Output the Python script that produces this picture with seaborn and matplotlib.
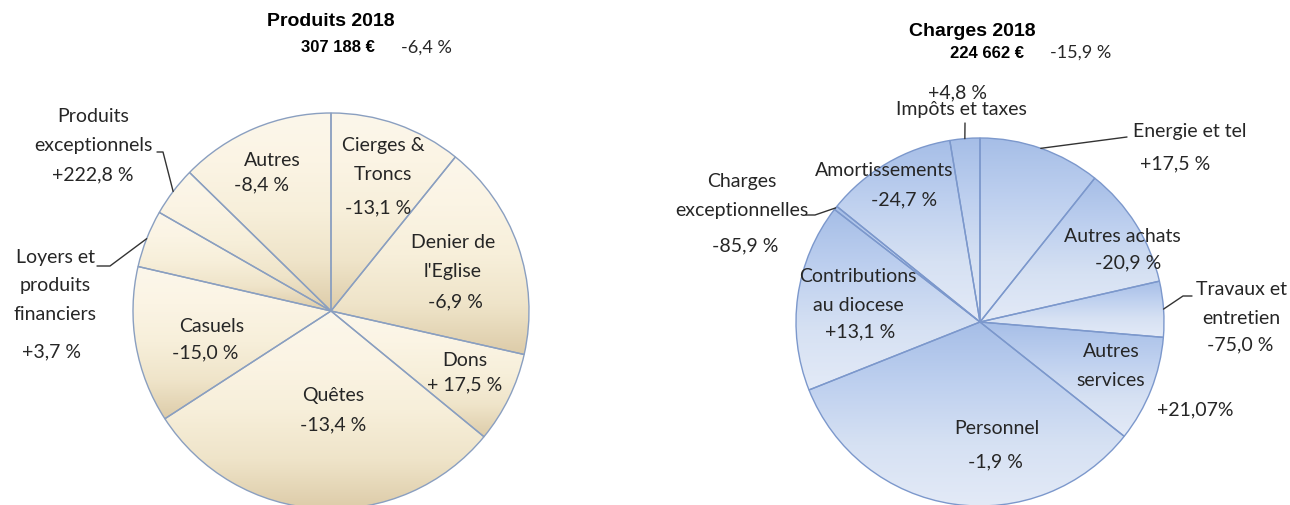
import numpy as np
import matplotlib.pyplot as plt
import seaborn as sns

# data (euros)
prod_names = ['Cierges &\nTroncs', "Denier de\nl'Eglise", 'Dons', 'Quêtes', 'Casuels',
              'Loyers et\nproduits\nfinanciers', 'Produits\nexceptionnels', 'Autres']
prod_values = [33200, 54400, 22800, 91800, 39200, 14400, 12400, 38900]
prod_var = ['-13,1 %', '-6,9 %', '+ 17,5 %', '-13,4 %', '-15,0 %', '+3,7 %', '+222,8 %', '-8,4 %']

charge_names = ['Energie et tel', 'Autres achats', 'Travaux et\nentretien', 'Autres\nservices',
                'Personnel', 'Contributions\nau diocese', 'Charges\nexceptionnelles',
                'Amortissements', 'Impôts et taxes']
charge_values = [24100, 24100, 11000, 21000, 74900, 37100, 750, 26000, 5900]
charge_var = ['+17,5 %', '-20,9 %', '-75,0 %', '+21,07%', '-1,9 %', '+13,1 %', '-85,9 %',
              '-24,7 %', '+4,8 %']

titles = ['Produits 2018', 'Charges 2018']
totals = ['307 188 €', '224 662 €']
total_var = ['-6,4 %', '-15,9 %']

W, H = 1290, 505
sns.set_theme(style='white')
plt.rcParams['font.family'] = ['Lato', 'DejaVu Sans']

fig = plt.figure(figsize=(W / 100, H / 100), dpi=100)
ax = fig.add_axes([0, 0, 1, 1])


def P(x, y):
    # pixel position (from top-left) -> data coords
    return x, H - y


def gradient_pie(values, center, radius, colors, edge):
    wedges, _ = ax.pie(values, center=center, radius=radius, startangle=90,
                       counterclock=False, frame=True,
                       wedgeprops=dict(facecolor='none', edgecolor=edge, linewidth=1.0, zorder=3))
    ramp = np.array(sns.blend_palette(colors, n_colors=256))[:, None, :]
    for w in wedges:
        x0, y0, x1, y1 = w.get_path().get_extents().extents
        im = ax.imshow(ramp, extent=(x0, x1, y0, y1), origin='upper', aspect='auto',
                       interpolation='bilinear', zorder=2)
        im.set_clip_path(w)
    return wedges


def edge_point(w, frac=1.0):
    t = np.deg2rad((w.theta1 + w.theta2) / 2)
    return w.center[0] + frac * w.r * np.cos(t), w.center[1] + frac * w.r * np.sin(t)


beige = ['#FCF7EB', '#FBF4E4', '#F7EFDA', '#EFE4C9', '#DDCCA9']
blue = ['#A6BEE7', '#BED0EF', '#D6E1F3', '#E3EAF7']
w_left = gradient_pie(prod_values, P(331, 311), 198, beige, '#8A9FC0')
w_right = gradient_pie(charge_values, P(980, 322), 184, blue, '#7C98CC')

ax.set_xlim(0, W)
ax.set_ylim(0, H)
ax.set_aspect('auto')
ax.axis('off')

txt = dict(fontsize=14, color='#262626', ha='center', va='center', linespacing=1.8, zorder=5)

# titles
for cx, ty, sx, sy, t, tot, tv in [(331, 22, 333, 48, titles[0], totals[0], total_var[0]),
                                    (972, 32, 982, 53, titles[1], totals[1], total_var[1])]:
    ax.text(*P(cx, ty), t, fontsize=14, fontweight='bold', ha='center', va='center',
            family=['Liberation Sans', 'DejaVu Sans'], color='black')
    ax.text(*P(sx + 42, sy), tot, fontsize=12, fontweight='bold', ha='right', va='center',
            family=['Liberation Sans', 'DejaVu Sans'], color='black')
    ax.text(*P(sx + 68, sy), tv, fontsize=13, ha='left', va='center', color='#262626')

left_name_pos = [(383, 160), (453, 257), (465, 361), (333, 395), (212, 326), (55, 286),
                 (93, 131), (272, 160)]
left_var_pos = [(378, 208), (455, 302), (465, 385), (333, 425), (205, 353), (52, 352),
                (93, 175), (262, 185)]
right_name_pos = [(1190, 132), (1122, 237), (1241, 304), (1111, 366), (997, 428), (858, 291),
                  (742, 196), (884, 170), (961, 110)]
right_var_pos = [(1175, 164), (1128, 263), (1240, 345), (1195, 410), (995, 462), (860, 332),
                 (745, 246), (904, 200), (957, 93)]

for names, var, npos, vpos in [(prod_names, prod_var, left_name_pos, left_var_pos),
                               (charge_names, charge_var, right_name_pos, right_var_pos)]:
    for n, v, a, b in zip(names, var, npos, vpos):
        ax.text(*P(*a), n, **txt)
        ax.text(*P(*b), v, **txt)

# leader lines for the small outside labels
leaders = [(w_left[6], [(157, 152), (163, 152)]),
           (w_left[5], [(97, 266), (110, 266)]),
           (w_right[8], [(965, 123)]),
           (w_right[0], [(1127, 137)]),
           (w_right[2], [(1192, 296), (1183, 296)]),
           (w_right[6], [(806, 215), (815, 215)])]
for w, pts in leaders:
    xs = [P(*p)[0] for p in pts] + [edge_point(w)[0]]
    ys = [P(*p)[1] for p in pts] + [edge_point(w)[1]]
    ax.plot(xs, ys, color='#333333', lw=1.0, zorder=4)

fig.savefig('out.png', dpi=100, facecolor='white')
